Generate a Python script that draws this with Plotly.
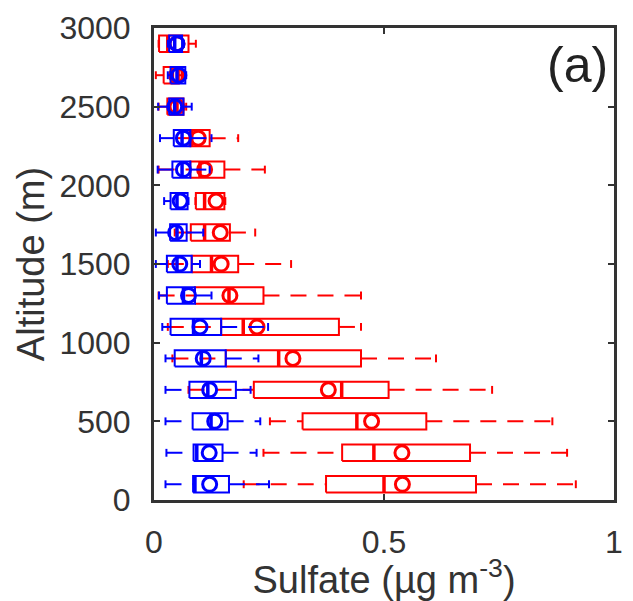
import plotly.graph_objects as go

altitude = [100, 300, 500, 700, 900, 1100, 1300, 1500, 1700, 1900, 2100, 2300, 2500, 2700, 2900]

# Red series (sulfate, µg m-3)
red_low    = [0.195, 0.238, 0.252, 0.075, 0.040, 0.030, 0.010, 0.030, 0.045, 0.090, 0.010, 0.050, 0.010, 0.004, 0.010]
red_q1     = [0.374, 0.409, 0.323, 0.217, 0.156, 0.146, 0.089, 0.082, 0.080, 0.091, 0.079, 0.077, 0.029, 0.021, 0.011]
red_median = [0.500, 0.478, 0.441, 0.408, 0.271, 0.194, 0.163, 0.125, 0.110, 0.110, 0.100, 0.082, 0.050, 0.040, 0.030]
red_q3     = [0.700, 0.687, 0.592, 0.510, 0.450, 0.402, 0.238, 0.183, 0.165, 0.153, 0.153, 0.121, 0.064, 0.054, 0.075]
red_high   = [0.917, 0.898, 0.866, 0.735, 0.613, 0.450, 0.450, 0.298, 0.220, 0.155, 0.241, 0.183, 0.070, 0.060, 0.091]
red_mean   = [0.540, 0.539, 0.473, 0.379, 0.302, 0.224, 0.165, 0.146, 0.144, 0.135, 0.110, 0.096, 0.050, 0.049, 0.050]

# Blue series
blue_low    = [0.025, 0.027, 0.025, 0.025, 0.025, 0.018, 0.011, 0.004, 0.004, 0.022, 0.008, 0.013, 0.009, 0.030, 0.030]
blue_q1     = [0.085, 0.086, 0.084, 0.077, 0.045, 0.036, 0.028, 0.028, 0.035, 0.036, 0.040, 0.043, 0.033, 0.036, 0.033]
blue_median = [0.089, 0.093, 0.124, 0.117, 0.103, 0.086, 0.064, 0.050, 0.050, 0.050, 0.061, 0.061, 0.045, 0.050, 0.045]
blue_q3     = [0.163, 0.149, 0.160, 0.178, 0.156, 0.146, 0.089, 0.082, 0.071, 0.073, 0.079, 0.079, 0.064, 0.068, 0.061]
blue_high   = [0.250, 0.223, 0.231, 0.210, 0.227, 0.248, 0.125, 0.100, 0.107, 0.075, 0.121, 0.125, 0.082, 0.070, 0.065]
blue_mean   = [0.121, 0.120, 0.132, 0.121, 0.107, 0.100, 0.075, 0.056, 0.047, 0.057, 0.064, 0.064, 0.045, 0.054, 0.050]

x_ticks = [0, 0.5, 1]
x_tick_text = ["0", "0.5", "1"]
y_ticks = [0, 500, 1000, 1500, 2000, 2500, 3000]
y_tick_text = ["0", "500", "1000", "1500", "2000", "2500", "3000"]

HALF_BOX = 52     # half box height (m)
HALF_CAP = 25     # half whisker-cap height (m)


def box_traces(low, q1, med, q3, high, mean, color):
    wx, wy, cx, cy, bx, by, mx, my = [], [], [], [], [], [], [], []
    for a, lo, b1, m, b3, hi in zip(altitude, low, q1, med, q3, high):
        wx += [lo, b1, None, b3, hi, None]
        wy += [a, a, None, a, a, None]
        cx += [lo, lo, None, hi, hi, None]
        cy += [a - HALF_CAP, a + HALF_CAP, None, a - HALF_CAP, a + HALF_CAP, None]
        bx += [b1, b3, b3, b1, b1, None]
        by += [a - HALF_BOX, a - HALF_BOX, a + HALF_BOX, a + HALF_BOX, a - HALF_BOX, None]
        mx += [m, m, None]
        my += [a - HALF_BOX, a + HALF_BOX, None]
    return [
        go.Scatter(x=wx, y=wy, mode="lines", line=dict(color=color, width=2, dash="16px,11px"),
                   hoverinfo="skip", showlegend=False),
        go.Scatter(x=cx, y=cy, mode="lines", line=dict(color=color, width=2),
                   hoverinfo="skip", showlegend=False),
        go.Scatter(x=bx, y=by, mode="lines", line=dict(color=color, width=2),
                   hoverinfo="skip", showlegend=False),
        go.Scatter(x=mx, y=my, mode="lines", line=dict(color=color, width=3.5),
                   hoverinfo="skip", showlegend=False),
        go.Scatter(x=mean, y=altitude, mode="markers",
                   marker=dict(symbol="circle-open", size=14, color=color, line=dict(width=3, color=color)),
                   showlegend=False),
    ]


fig = go.Figure()
for t in box_traces(red_low, red_q1, red_median, red_q3, red_high, red_mean, "rgb(255,0,0)"):
    fig.add_trace(t)
for t in box_traces(blue_low, blue_q1, blue_median, blue_q3, blue_high, blue_mean, "rgb(0,0,255)"):
    fig.add_trace(t)

font_family = "Liberation Sans, Arial, sans-serif"
fig.update_layout(
    width=633, height=601,
    margin=dict(l=154, r=10, t=21, b=101),
    paper_bgcolor="white", plot_bgcolor="white",
    font=dict(family=font_family, color="#333333"),
    xaxis=dict(range=[0, 1], tickvals=x_ticks, ticktext=x_tick_text,
               showgrid=False, zeroline=False, showline=True, mirror="ticks",
               linecolor="#333333", linewidth=3, ticks="inside", ticklen=6, tickwidth=2,
               tickcolor="#333333", tickfont=dict(size=32, color="#333333"),
               ticklabelstandoff=12,
               title=dict(text="Sulfate (µg m<sup>-3</sup>)", font=dict(size=38, color="#333333"),
                          standoff=2)),
    yaxis=dict(range=[0, 3000], tickvals=y_ticks, ticktext=y_tick_text,
               showgrid=False, zeroline=False, showline=True, mirror="ticks",
               linecolor="#333333", linewidth=3, ticks="inside", ticklen=6, tickwidth=2,
               tickcolor="#333333", tickfont=dict(size=32, color="#333333"),
               ticklabelstandoff=14,
               title=dict(text="Altitude (m)", font=dict(size=38, color="#333333"),
                          standoff=4)),
    annotations=[dict(text="(a)", xref="paper", yref="paper", x=0.992, y=0.922,
                      xanchor="right", yanchor="middle", showarrow=False,
                      font=dict(size=50, color="#222222", family=font_family))],
)

fig.write_html("out.html")
